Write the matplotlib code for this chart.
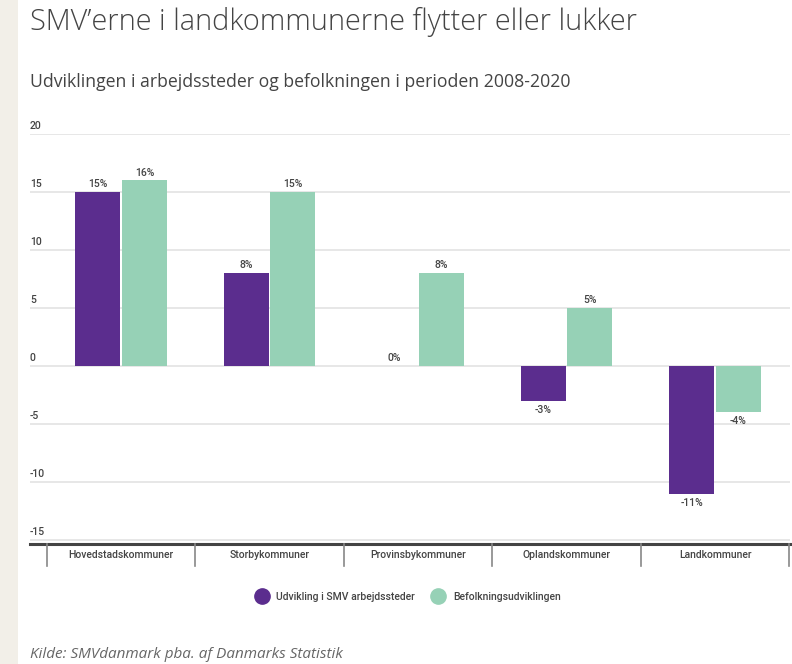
import matplotlib
matplotlib.use('Agg')
import matplotlib.pyplot as plt
from matplotlib.lines import Line2D
from matplotlib.patches import Rectangle
import numpy as np

plt.rcParams['font.family'] = ['Open Sans', 'DejaVu Sans']

# ==================== DATA ====================
categories = ['Hovedstadskommuner', 'Storbykommuner', 'Provinsbykommuner',
              'Oplandskommuner', 'Landkommuner']
smv_values = [15, 8, 0, -3, -11]
pop_values = [16, 15, 8, 5, -4]
series_names = ['Udvikling i SMV arbejdssteder', 'Befolkningsudviklingen']
y_ticks = [20, 15, 10, 5, 0, -5, -10, -15]

purple = '#5b2d8e'
green = '#96d1b6'
text_col = '#444444'
small = ['Roboto', 'DejaVu Sans']

fig = plt.figure(figsize=(7.92, 6.64), dpi=100)
W, H = 792, 664

# beige strip on the left
fig.patches.append(Rectangle((0, 0), 18 / W, 1, transform=fig.transFigure,
                             facecolor='#f2efe8', edgecolor='none', zorder=0))

fig.text(30 / W, 1 - 22 / H, 'SMV\u2019erne i landkommunerne flytter eller lukker',
         fontsize=20.8, color=text_col, va='center', ha='left', fontweight='light')
fig.text(30 / W, 1 - 82 / H, 'Udviklingen i arbejdssteder og befolkningen i perioden 2008-2020',
         fontsize=12.7, color=text_col, va='center', ha='left')
fig.text(30 / W, 1 - 655 / H, 'Kilde: SMVdanmark pba. af Danmarks Statistik',
         fontsize=11, color='#666666', va='center', ha='left', style='italic')

# axes: x 30..790, y 134..544 px
ax = fig.add_axes([30 / W, 1 - 544 / H, 760 / W, 410 / H])
ax.set_xlim(-0.613, 4.505)
ax.set_ylim(-15.34, 20)
for s in ax.spines.values():
    s.set_visible(False)
ax.set_xticks([])
ax.set_yticks([])

for t in y_ticks:
    ax.axhline(t, color='#e3e3e3', lw=1.2, zorder=0)
    ax.text(0, t + 0.25, str(t), transform=ax.get_yaxis_transform(),
            fontsize=7.5, color=text_col, ha='left', va='bottom', family=small,
            fontweight='medium')
ax.axhline(-15.34, color='#444444', lw=2.2, clip_on=False)

x = np.arange(len(categories))
bw = 0.303
off = 0.158
ax.bar(x - off, smv_values, bw, color=purple, zorder=2)
ax.bar(x + off, pop_values, bw, color=green, zorder=2)

for xi, v in zip(x - off, smv_values):
    if v >= 0:
        ax.text(xi, v + 0.25, f'{v}%', ha='center', va='bottom', fontsize=7.5,
                color=text_col, family=small, fontweight='medium')
    else:
        ax.text(xi, v - 0.35, f'{v}%', ha='center', va='top', fontsize=7.5,
                color=text_col, family=small, fontweight='medium')
for xi, v in zip(x + off, pop_values):
    if v >= 0:
        ax.text(xi, v + 0.25, f'{v}%', ha='center', va='bottom', fontsize=7.5,
                color=text_col, family=small, fontweight='medium')
    else:
        ax.text(xi, v - 0.35, f'{v}%', ha='center', va='top', fontsize=7.5,
                color=text_col, family=small, fontweight='medium')

# category separators and labels below the axis
for sx in np.arange(-0.5, len(categories), 1.0):
    ax.plot([sx, sx], [-15.34, -17.2], color='#888888', lw=1.2, clip_on=False)
for xi, c in zip(x, categories):
    ax.text(xi, -16.25, c, ha='center', va='center', fontsize=7.5, color=text_col,
            family=small, fontweight='medium')

handles = [Line2D([], [], marker='o', ls='', color=purple, markersize=11),
           Line2D([], [], marker='o', ls='', color=green, markersize=11)]
fig.legend(handles, series_names, loc='center', bbox_to_anchor=(406 / W, 1 - 597 / H),
           ncol=2, frameon=False, prop={'family': small, 'size': 7.5, 'weight': 'medium'},
           handletextpad=0.4, columnspacing=1.2, labelcolor=text_col)

plt.savefig('out.png', dpi=100, facecolor='white')
